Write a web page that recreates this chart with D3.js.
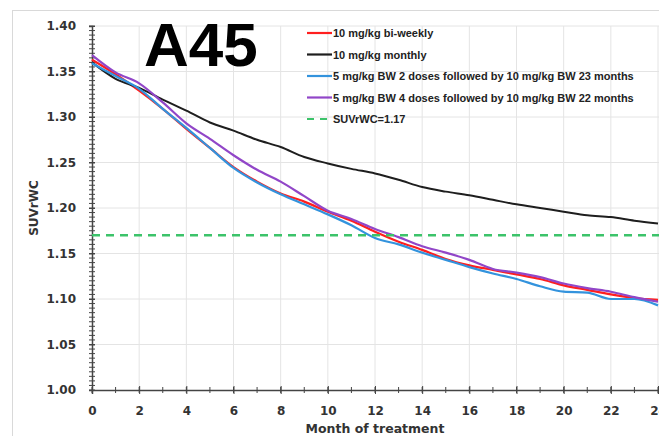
<!DOCTYPE html>
<html>
<head>
<meta charset="utf-8">
<script src="https://cdn.jsdelivr.net/npm/d3@7"></script>
<style>
  html, body { margin: 0; padding: 0; background: #fff; }
  svg { display: block; }
</style>
</head>
<body>
<div id="chart"></div>
<script>
// --- data ---
const months = d3.range(0, 25);
const biWeekly10 = [1.363,1.347,1.329,1.309,1.287,1.266,1.245,1.229,1.216,1.207,1.196,1.186,1.174,1.163,1.154,1.144,1.137,1.132,1.127,1.122,1.115,1.110,1.105,1.101,1.099];
const monthly10 = [1.360,1.342,1.332,1.319,1.307,1.294,1.285,1.275,1.267,1.256,1.249,1.243,1.238,1.231,1.223,1.218,1.214,1.209,1.204,1.200,1.196,1.192,1.190,1.186,1.183];
const twoDoses5 = [1.359,1.345,1.331,1.309,1.288,1.266,1.244,1.228,1.215,1.204,1.193,1.181,1.167,1.160,1.151,1.143,1.135,1.128,1.122,1.114,1.108,1.107,1.100,1.100,1.093];
const fourDoses5 = [1.368,1.349,1.337,1.316,1.293,1.276,1.258,1.242,1.229,1.213,1.197,1.188,1.177,1.168,1.158,1.151,1.143,1.133,1.129,1.124,1.117,1.112,1.108,1.102,1.097];
const threshold = 1.17;

const seriesNames = [
  "10 mg/kg bi-weekly",
  "10 mg/kg monthly",
  "5 mg/kg BW 2 doses followed by 10 mg/kg BW 23 months",
  "5 mg/kg BW 4 doses followed by 10 mg/kg BW 22 months"
];
const thresholdName = "SUVrWC=1.17";
const seriesColors = ["#ff1f1f", "#1e1e1e", "#3393dd", "#9146c8"];
const seriesValues = [biWeekly10, monthly10, twoDoses5, fourDoses5];

const xTicks = d3.range(0, 25, 2);
const yTicks = [1.00, 1.05, 1.10, 1.15, 1.20, 1.25, 1.30, 1.35, 1.40];

// --- canvas ---
const width = 659, height = 436;
const svg = d3.select("#chart").append("svg")
  .attr("width", width)
  .attr("height", height);

// 外框
svg.append("rect")
  .attr("x", 12.5).attr("y", 10.5)
  .attr("width", 700).attr("height", 500)
  .attr("fill", "none")
  .attr("stroke", "#d9d9d9");

const x = d3.scaleLinear().domain([0, 24]).range([92, 658]);
const y = d3.scaleLinear().domain([1.0, 1.4]).range([390, 26]);

const font = "'DejaVu Sans', sans-serif";

// gridlines
svg.append("g").selectAll("line")
  .data(xTicks.slice(1))
  .join("line")
  .attr("x1", d => x(d)).attr("x2", d => x(d))
  .attr("y1", y(1.0)).attr("y2", y(1.4))
  .attr("stroke", "#e4e4e4");
svg.append("g").selectAll("line")
  .data(yTicks.slice(1))
  .join("line")
  .attr("x1", x(0)).attr("x2", 659)
  .attr("y1", d => y(d)).attr("y2", d => y(d))
  .attr("stroke", "#e4e4e4");

// axes
const yAxis = svg.append("g")
  .attr("transform", `translate(${x(0)},0)`)
  .call(d3.axisLeft(y).tickValues(yTicks).tickFormat(d3.format(".2f")).tickSize(3).tickPadding(13));
const yMinor = svg.append("g")
  .attr("transform", `translate(${x(0)},0)`);
yMinor.selectAll("line")
  .data(d3.range(0, 81).map(i => 1.0 + i * 0.005))
  .join("line")
  .attr("x1", -3).attr("x2", 3)
  .attr("y1", d => y(d)).attr("y2", d => y(d))
  .attr("stroke", "#444");

const xAxis = svg.append("g")
  .attr("transform", `translate(0,${y(1.0)})`)
  .call(d3.axisBottom(x).tickValues(xTicks).tickSize(4).tickPadding(12));
svg.append("g")
  .attr("transform", `translate(0,${y(1.0)})`)
  .selectAll("line")
  .data(months)
  .join("line")
  .attr("x1", d => x(d)).attr("x2", d => x(d))
  .attr("y1", -3).attr("y2", 3)
  .attr("stroke", "#444");

[xAxis, yAxis].forEach(g => {
  g.select(".domain").attr("stroke", "#444").attr("stroke-width", 1.5);
  g.selectAll(".tick line").attr("stroke", "#444");
  g.selectAll("text")
    .attr("font-family", font)
    .attr("font-size", 12)
    .attr("font-weight", "bold")
    .attr("fill", "#333");
});
yAxis.selectAll(".tick line").attr("x1", 3).attr("x2", -3);
xAxis.selectAll(".tick line").attr("y1", -4).attr("y2", 4);

// threshold + series
const line = d3.line()
  .x((d, i) => x(months[i]))
  .y(d => y(d))
  .curve(d3.curveMonotoneX);

seriesValues.forEach((vals, i) => {
  svg.append("path")
    .datum(vals)
    .attr("d", line)
    .attr("fill", "none")
    .attr("stroke", seriesColors[i])
    .attr("stroke-width", i === 1 ? 2 : 2.2)
    .attr("stroke-linejoin", "round");
});

svg.append("line")
  .attr("x1", x(0)).attr("x2", 659)
  .attr("y1", y(threshold)).attr("y2", y(threshold))
  .attr("stroke", "#3cc36a")
  .attr("stroke-width", 2.5)
  .attr("stroke-dasharray", "8,6");

// axis titles
svg.append("text")
  .attr("x", 38).attr("y", 208)
  .attr("transform", "rotate(-90,38,208)")
  .attr("text-anchor", "middle")
  .attr("font-family", font)
  .attr("font-size", 12)
  .attr("font-weight", "bold")
  .attr("fill", "#333")
  .text("SUVrWC");

svg.append("text")
  .attr("x", 375).attr("y", 433)
  .attr("text-anchor", "middle")
  .attr("font-family", font)
  .attr("font-size", 12.5)
  .attr("font-weight", "bold")
  .attr("fill", "#333")
  .text("Month of treatment");

// A45 标签
svg.append("text")
  .attr("x", 144).attr("y", 66)
  .attr("font-family", "'Liberation Sans', Arial, sans-serif")
  .attr("font-size", 62)
  .attr("font-weight", "bold")
  .attr("fill", "#000")
  .text("A45");

// legend
const legendRows = seriesNames.map((n, i) => ({ name: n, color: seriesColors[i], dash: null }))
  .concat([{ name: thresholdName, color: "#3cc36a", dash: "7,6" }]);
const legend = svg.append("g");
legendRows.forEach((r, i) => {
  const ly = 33 + i * 21.5;
  legend.append("line")
    .attr("x1", 307).attr("x2", 332)
    .attr("y1", ly).attr("y2", ly)
    .attr("stroke", r.color)
    .attr("stroke-width", 2.2)
    .attr("stroke-dasharray", r.dash);
  legend.append("text")
    .attr("x", 333).attr("y", ly + 4)
    .attr("font-family", "'Liberation Sans', Arial, sans-serif")
    .attr("font-size", 11)
    .attr("font-weight", "bold")
    .attr("fill", "#222")
    .text(r.name);
});
</script>
</body>
</html>
